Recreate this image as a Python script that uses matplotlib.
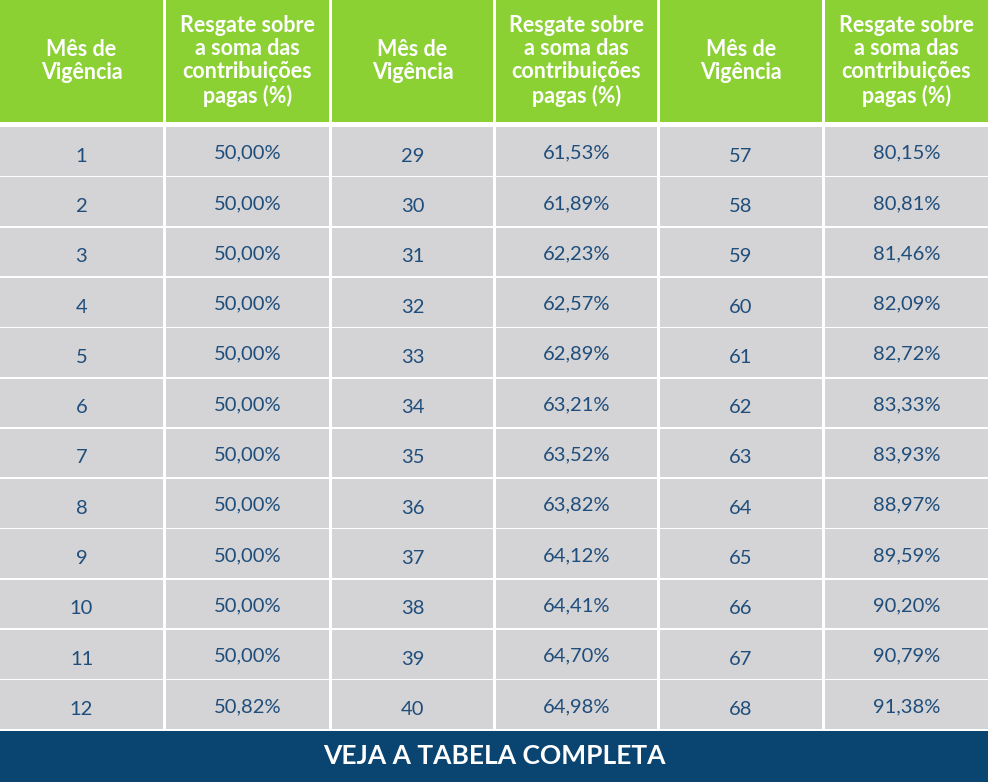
import matplotlib
matplotlib.use("Agg")
import matplotlib.pyplot as plt
from matplotlib.patches import Rectangle

# ---- data ----
months_a = [1, 2, 3, 4, 5, 6, 7, 8, 9, 10, 11, 12]
values_a = ["50,00%", "50,00%", "50,00%", "50,00%", "50,00%", "50,00%",
            "50,00%", "50,00%", "50,00%", "50,00%", "50,00%", "50,82%"]
months_b = [29, 30, 31, 32, 33, 34, 35, 36, 37, 38, 39, 40]
values_b = ["61,53%", "61,89%", "62,23%", "62,57%", "62,89%", "63,21%",
            "63,52%", "63,82%", "64,12%", "64,41%", "64,70%", "64,98%"]
months_c = [57, 58, 59, 60, 61, 62, 63, 64, 65, 66, 67, 68]
values_c = ["80,15%", "80,81%", "81,46%", "82,09%", "82,72%", "83,33%",
            "83,93%", "88,97%", "89,59%", "90,20%", "90,79%", "91,38%"]
header_month = "Mês de\nVigência"
header_value = "Resgate sobre\na soma das\ncontribuições\npagas (%)"
footer_text = "VEJA A TABELA COMPLETA"

# ---- style ----
W, H = 990, 783
GREEN = "#8bd134"
GRAY = "#d4d3d5"
BLUE = "#0a4470"
TXT = "#1f4e7c"
FONT = ["Lato", "DejaVu Sans"]

fig = plt.figure(figsize=(W / 100, H / 100), dpi=100)
ax = fig.add_axes([0, 0, 1, 1])
ax.set_xlim(0, W)
ax.set_ylim(H, 0)
ax.axis("off")
fig.patch.set_facecolor("white")

col_edges = [(0, 163), (166, 329), (332, 493), (496, 657), (660, 822), (825, 988)]
header_top, header_bot = 0, 122
row_top = 127
row_h = 50.3
n_rows = 12

groups = [(months_a, values_a), (months_b, values_b), (months_c, values_c)]

for ci, (x0, x1) in enumerate(col_edges):
    ax.add_patch(Rectangle((x0, header_top), x1 - x0, header_bot - header_top,
                           facecolor=GREEN, edgecolor="none"))
    label = header_month if ci % 2 == 0 else header_value
    ax.text((x0 + x1) / 2, 61, label, ha="center", va="center", color="white",
            fontsize=15.5, fontweight="bold", family=FONT, linespacing=1.12)
    months, values = groups[ci // 2]
    for r in range(n_rows):
        y0 = row_top + r * row_h
        ax.add_patch(Rectangle((x0, y0), x1 - x0, row_h - 1.6,
                               facecolor=GRAY, edgecolor="none"))
        txt = str(months[r]) if ci % 2 == 0 else values[r]
        dy = 4 if ci % 2 == 0 else 1
        ax.text((x0 + x1) / 2, y0 + row_h / 2 + dy, txt, ha="center", va="center",
                color=TXT, fontsize=14.5, fontweight="normal", family=FONT)

# footer
ax.add_patch(Rectangle((0, 731), 988, 51, facecolor=BLUE, edgecolor="none"))
ax.text(494, 756, footer_text, ha="center", va="center", color="white",
        fontsize=19, fontweight="bold", family=FONT)

fig.savefig("out.png", dpi=100, facecolor="white")
